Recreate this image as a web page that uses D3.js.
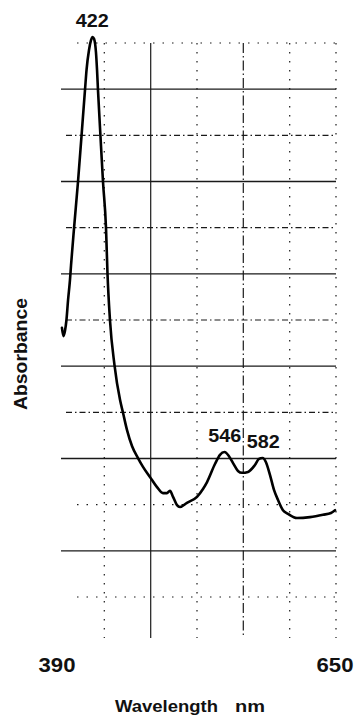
<!DOCTYPE html>
<html>
<head>
<meta charset="utf-8">
<script src="https://cdnjs.cloudflare.com/ajax/libs/d3/7.8.5/d3.min.js"></script>
<style>
  body { margin: 0; background: #fff; }
  text { font-family: "Liberation Sans", Arial, Helvetica, sans-serif; font-weight: bold; fill: #111; }
</style>
</head>
<body>
<script>
// Spectrum (nm, absorbance in grid units of 0.1)
var wavelength = [393.7, 395.1, 396.5, 397.9, 399.4, 401.2, 402.2, 405.0, 408.7, 412.0,
	415.3, 416.7, 419.0, 420.9, 422.3, 423.7, 425.5, 426.5, 427.4, 429.7,
	432.1, 434.9, 436.3, 438.6, 442.8, 448.0, 450.8, 454.5, 459.2, 464.8,
	469.5, 476.0, 482.6, 488.2, 491.9, 494.7, 497.6, 501.3, 504.1, 510.6,
	520.0, 525.6, 529.4, 536.8, 541.5, 545.7, 549.9, 553.7, 558.3, 562.1,
	567.7, 574.2, 578.0, 581.3, 584.5, 588.3, 592.0, 595.8, 600.4, 605.1,
	613.5, 625.7, 637.8, 645.3, 649.1];
var absorbance = [0.583, 0.565, 0.576, 0.600, 0.643, 0.687, 0.719, 0.799, 0.899, 0.999,
	1.100, 1.142, 1.185, 1.206, 1.213, 1.209, 1.180, 1.142, 1.098, 0.999,
	0.899, 0.799, 0.700, 0.600, 0.503, 0.427, 0.399, 0.362, 0.327, 0.301,
	0.282, 0.260, 0.238, 0.225, 0.225, 0.230, 0.217, 0.199, 0.195, 0.204,
	0.217, 0.234, 0.249, 0.288, 0.308, 0.314, 0.305, 0.290, 0.273, 0.269,
	0.271, 0.286, 0.299, 0.301, 0.292, 0.264, 0.232, 0.210, 0.188, 0.180,
	0.171, 0.173, 0.178, 0.182, 0.188];

// Peaks marked on the trace
var peakNm = [422, 546, 582];
var peakAbs = [1.213, 0.314, 0.301];

// Only the two ends of the wavelength axis are labelled
var xTicks = [390, 650];

// Chart paper grid
var vGrid = [433.3, 476.7, 520, 563.3, 606.7, 650];
var vStyle = ["dot", "solid", "dot", "dashdot", "dot", "dot"];
var hGrid = [0, 0.1, 0.2, 0.3, 0.4, 0.5, 0.6, 0.7, 0.8, 0.9, 1.0, 1.1, 1.2];
var hStyle = ["dot", "solid", "dot", "solid", "dashdot", "solid", "dashdot",
	"solid", "dashdot", "solid", "dashdot", "solid", "dot"];

var width = 354;
var height = 715;

var x = d3.scaleLinear().domain([390, 650]).range([58, 336]);
var y = d3.scaleLinear().domain([0, 1.2]).range([597, 43]);

// dash patterns for the printed grid
var dash = {solid: null, dot: "1.5,8", dashdot: "6,3,1.5,3"};
var vDash = {solid: null, dot: "1.5,7.5", dashdot: "10,3,1.5,3"};
var hStart = {solid: 3, dashdot: 8, dot: 19};

var svg = d3.select("body")
	.append("svg")
	.attr("width", width)
	.attr("height", height);

// Horizontal grid lines
svg.selectAll("line.h")
	.data(hGrid)
	.enter()
	.append("line")
	.attr("class", "h")
	.attr("x1", (d, i) => x(390) + hStart[hStyle[i]])
	.attr("x2", x(650))
	.attr("y1", d => y(d))
	.attr("y2", d => y(d))
	.attr("stroke", "#1a1a1a")
	.attr("stroke-width", (d, i) => hStyle[i] == "solid" ? 1.4 : 1.2)
	.attr("stroke-dasharray", (d, i) => dash[hStyle[i]]);

// Vertical grid lines
svg.selectAll("line.v")
	.data(vGrid)
	.enter()
	.append("line")
	.attr("class", "v")
	.attr("x1", d => x(d))
	.attr("x2", d => x(d))
	.attr("y1", y(1.2))
	.attr("y2", y(0) + 41)
	.attr("stroke", "#1a1a1a")
	.attr("stroke-width", (d, i) => vStyle[i] == "dot" ? 1.2 : 1.2)
	.attr("stroke-dasharray", (d, i) => vDash[vStyle[i]]);

// The spectrum
var points = wavelength.map((w, i) => [w, absorbance[i]]);
var line = d3.line()
	.x(d => x(d[0]))
	.y(d => y(d[1]))
	.curve(d3.curveMonotoneX);

svg.append("path")
	.datum(points)
	.attr("d", line)
	.attr("fill", "none")
	.attr("stroke", "#000")
	.attr("stroke-width", 2.6)
	.attr("stroke-linejoin", "round")
	.attr("stroke-linecap", "round");

// Peak wavelengths above each maximum
svg.selectAll("text.peak")
	.data(peakNm)
	.enter()
	.append("text")
	.attr("class", "peak")
	.text(d => d)
	.attr("x", d => x(d))
	.attr("y", (d, i) => y(peakAbs[i]) - 10)
	.attr("font-size", "19px")
	.attr("text-anchor", "middle")
	.attr("textLength", 33)
	.attr("lengthAdjust", "spacingAndGlyphs");

// Axis end labels
svg.selectAll("text.tick")
	.data(xTicks)
	.enter()
	.append("text")
	.attr("class", "tick")
	.text(d => d)
	.attr("x", d => x(d) - 1)
	.attr("y", 672)
	.attr("font-size", "20px")
	.attr("text-anchor", "middle")
	.attr("textLength", 37)
	.attr("lengthAdjust", "spacingAndGlyphs");

// Axis titles
svg.append("text")
	.text("Wavelength")
	.attr("x", 115)
	.attr("y", 712)
	.attr("font-size", "16px")
	.attr("textLength", 103)
	.attr("lengthAdjust", "spacingAndGlyphs");

svg.append("text")
	.text("nm")
	.attr("x", 235)
	.attr("y", 712)
	.attr("font-size", "16px")
	.attr("textLength", 30)
	.attr("lengthAdjust", "spacingAndGlyphs");

svg.append("text")
	.text("Absorbance")
	.attr("transform", "translate(27,354) rotate(-90)")
	.attr("font-size", "18px")
	.attr("text-anchor", "middle")
	.attr("textLength", 112)
	.attr("lengthAdjust", "spacingAndGlyphs");
</script>
</body>
</html>
